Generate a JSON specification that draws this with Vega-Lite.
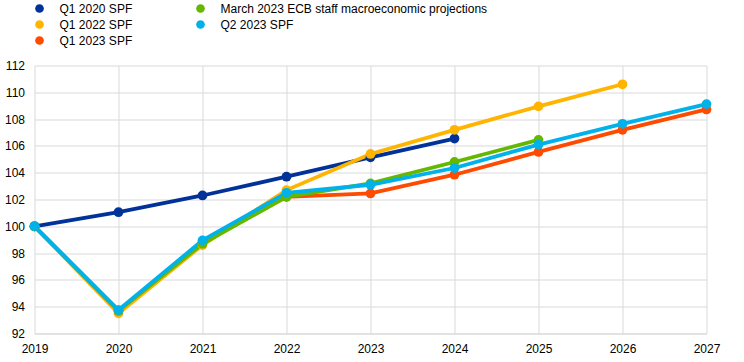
{
  "$schema": "https://vega.github.io/schema/vega-lite/v6.json",
  "width": 672,
  "height": 268,
  "autosize": {"type": "none"},
  "padding": {"left": 34.5, "top": 65.5, "right": 37.5, "bottom": 28.5},
  "background": "white",
  "config": {
    "view": {"stroke": null},
    "font": "Liberation Sans",
    "axis": {"labelFont": "Liberation Sans", "labelFontSize": 12, "labelColor": "#000000", "gridColor": "#d9d9d9", "gridWidth": 1, "ticks": false, "domain": false},
    "legend": {"labelFont": "Liberation Sans", "labelFontSize": 12, "labelColor": "#000000"}
  },
  "data": {
    "values": [
      {"series": "Q1 2020 SPF", "year": 2019, "value": 100},
      {"series": "Q1 2020 SPF", "year": 2020, "value": 101.05},
      {"series": "Q1 2020 SPF", "year": 2021, "value": 102.3},
      {"series": "Q1 2020 SPF", "year": 2022, "value": 103.7},
      {"series": "Q1 2020 SPF", "year": 2023, "value": 105.15},
      {"series": "Q1 2020 SPF", "year": 2024, "value": 106.55},
      {"series": "Q1 2022 SPF", "year": 2019, "value": 100},
      {"series": "Q1 2022 SPF", "year": 2020, "value": 93.5},
      {"series": "Q1 2022 SPF", "year": 2021, "value": 98.6},
      {"series": "Q1 2022 SPF", "year": 2022, "value": 102.7},
      {"series": "Q1 2022 SPF", "year": 2023, "value": 105.4},
      {"series": "Q1 2022 SPF", "year": 2024, "value": 107.2},
      {"series": "Q1 2022 SPF", "year": 2025, "value": 108.95},
      {"series": "Q1 2022 SPF", "year": 2026, "value": 110.6},
      {"series": "Q1 2023 SPF", "year": 2019, "value": 100},
      {"series": "Q1 2023 SPF", "year": 2020, "value": 93.7},
      {"series": "Q1 2023 SPF", "year": 2021, "value": 98.8},
      {"series": "Q1 2023 SPF", "year": 2022, "value": 102.2},
      {"series": "Q1 2023 SPF", "year": 2023, "value": 102.45},
      {"series": "Q1 2023 SPF", "year": 2024, "value": 103.85},
      {"series": "Q1 2023 SPF", "year": 2025, "value": 105.55},
      {"series": "Q1 2023 SPF", "year": 2026, "value": 107.2},
      {"series": "Q1 2023 SPF", "year": 2027, "value": 108.72},
      {"series": "March 2023 ECB staff macroeconomic projections", "year": 2019, "value": 100},
      {"series": "March 2023 ECB staff macroeconomic projections", "year": 2020, "value": 93.7},
      {"series": "March 2023 ECB staff macroeconomic projections", "year": 2021, "value": 98.7},
      {"series": "March 2023 ECB staff macroeconomic projections", "year": 2022, "value": 102.2},
      {"series": "March 2023 ECB staff macroeconomic projections", "year": 2023, "value": 103.2},
      {"series": "March 2023 ECB staff macroeconomic projections", "year": 2024, "value": 104.8},
      {"series": "March 2023 ECB staff macroeconomic projections", "year": 2025, "value": 106.45},
      {"series": "Q2 2023 SPF", "year": 2019, "value": 100},
      {"series": "Q2 2023 SPF", "year": 2020, "value": 93.75},
      {"series": "Q2 2023 SPF", "year": 2021, "value": 98.95},
      {"series": "Q2 2023 SPF", "year": 2022, "value": 102.5},
      {"series": "Q2 2023 SPF", "year": 2023, "value": 103.1},
      {"series": "Q2 2023 SPF", "year": 2024, "value": 104.35},
      {"series": "Q2 2023 SPF", "year": 2025, "value": 106.1},
      {"series": "Q2 2023 SPF", "year": 2026, "value": 107.65},
      {"series": "Q2 2023 SPF", "year": 2027, "value": 109.12}
    ]
  },
  "mark": {"type": "line", "strokeWidth": 3.8, "point": {"filled": true, "size": 95, "opacity": 1}},
  "encoding": {
    "x": {
      "field": "year", "type": "quantitative",
      "scale": {"domain": [2019, 2027], "nice": false, "zero": false},
      "axis": {"title": null, "values": [2019, 2020, 2021, 2022, 2023, 2024, 2025, 2026, 2027], "format": "d", "labelPadding": 10, "labelFlush": false, "domain": true, "domainColor": "#d9d9d9"}
    },
    "y": {
      "field": "value", "type": "quantitative",
      "scale": {"domain": [92, 112], "nice": false, "zero": false},
      "axis": {"title": null, "values": [92, 94, 96, 98, 100, 102, 104, 106, 108, 110, 112], "labelPadding": 10}
    },
    "color": {
      "field": "series", "type": "nominal",
      "scale": {
        "domain": ["Q1 2020 SPF", "Q1 2022 SPF", "Q1 2023 SPF", "March 2023 ECB staff macroeconomic projections", "Q2 2023 SPF"],
        "range": ["#003299", "#FFB400", "#FF4B00", "#65B800", "#00B1EA"]
      },
      "legend": {
        "title": null,
        "orient": "none",
        "legendX": -1,
        "legendY": -63,
        "columns": 2,
        "symbolType": "circle",
        "symbolSize": 75,
        "symbolStrokeWidth": 0,
        "labelOffset": 14,
        "rowPadding": 4,
        "columnPadding": 62,
        "labelLimit": 400
      }
    }
  }
}
